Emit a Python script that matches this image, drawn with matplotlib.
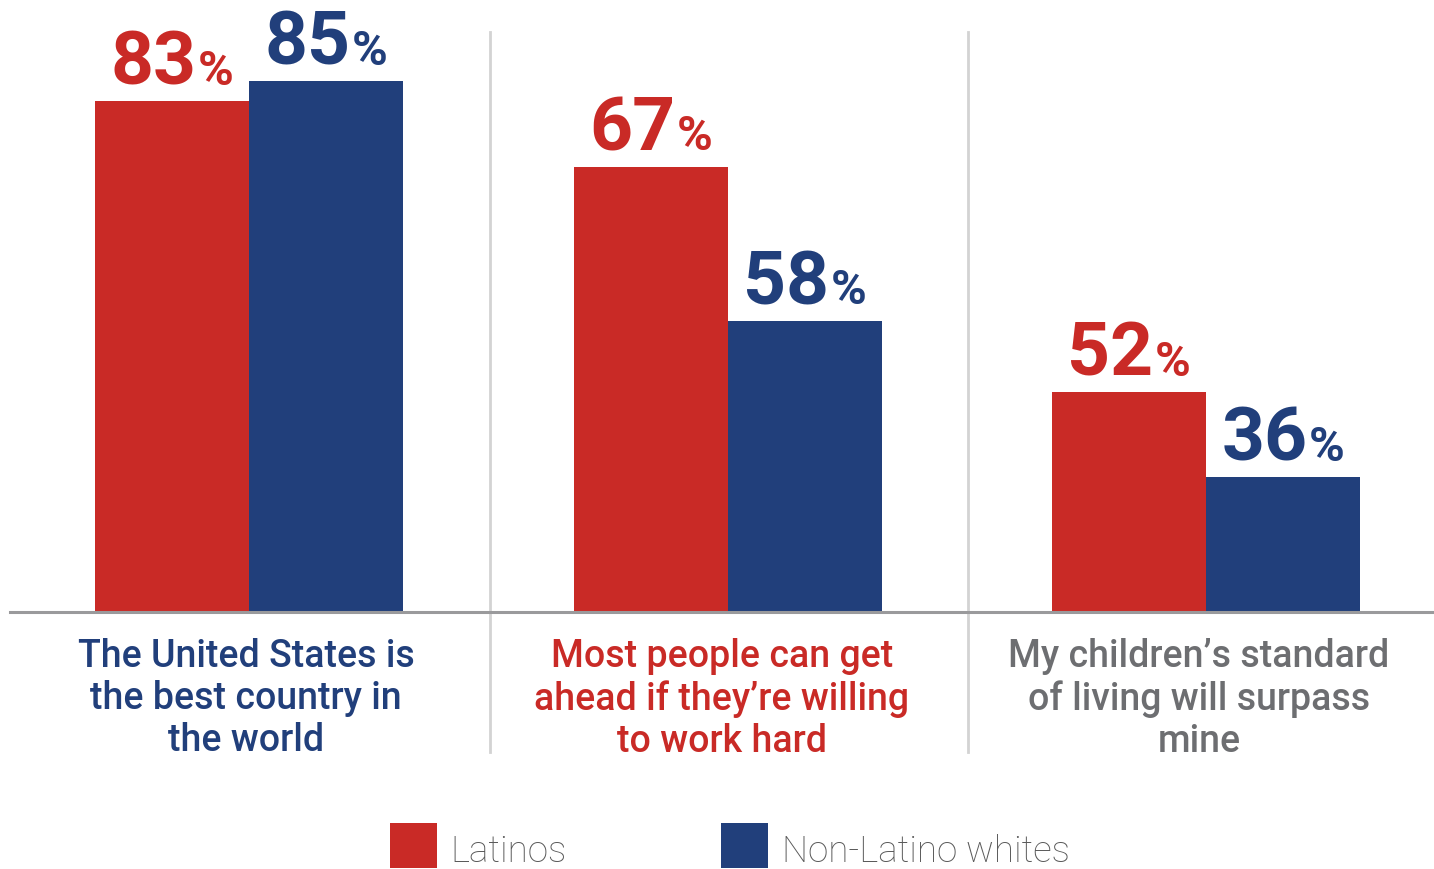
import matplotlib
matplotlib.use("Agg")
import matplotlib.pyplot as plt
from matplotlib.offsetbox import TextArea, HPacker, AnnotationBbox
from matplotlib.patches import Rectangle

# ---- data ----
categories = [
    "The United States is\nthe best country in\nthe world",
    "Most people can get\nahead if they\u2019re willing\nto work hard",
    "My children\u2019s standard\nof living will surpass\nmine",
]
series_names = ["Latinos", "Non-Latino whites"]
latinos = [83, 67, 52]
non_latino_whites = [85, 58, 36]
# bar lengths as drawn in the original graphic (not proportional to labels)
latinos_drawn = [81.8, 71.3, 35.2]
whites_drawn = [85.0, 46.6, 21.6]

RED = "#C92A26"
BLUE = "#213F7B"
GRAY = "#6D6E71"
cat_colors = [BLUE, RED, GRAY]

W, H = 1434, 869
fig = plt.figure(figsize=(W / 100, H / 100), dpi=100)
base_px = 612
ax = fig.add_axes([0, (H - base_px) / H, 1, base_px / H])
px_per_unit = 531 / 85.0
spacing = 478.5
x0px = 249
ax.set_ylim(0, base_px / px_per_unit)
ax.set_xlim(-x0px / spacing, (W - x0px) / spacing)
ax.axis("off")

bw = 154 / spacing
xs = [0, 1, 2]
for i in xs:
    ax.bar(i - bw / 2, latinos_drawn[i], width=bw, color=RED, linewidth=0)
    ax.bar(i + bw / 2, whites_drawn[i], width=bw, color=BLUE, linewidth=0)

def value_label(x, h, val, color):
    t1 = TextArea(f"{val}", textprops=dict(fontsize=54, fontweight="bold",
                                           color=color, family="Roboto"))
    t2 = TextArea("%", textprops=dict(fontsize=35, fontweight="bold",
                                      color=color, family="Roboto"))
    box = HPacker(children=[t1, t2], align="baseline", pad=0, sep=1)
    ab = AnnotationBbox(box, (x, h), xybox=(0, 1), xycoords="data",
                        boxcoords="offset points", box_alignment=(0.5, 0),
                        frameon=False, annotation_clip=False)
    ax.add_artist(ab)

for i in xs:
    value_label(i - bw / 2, latinos_drawn[i], latinos[i], RED)
    value_label(i + bw / 2, whites_drawn[i], non_latino_whites[i], BLUE)

# baseline
fig.add_artist(plt.Line2D([10 / W, 1], [(H - base_px) / H] * 2,
                          color="#9A9A9C", lw=2.2, transform=fig.transFigure))
# dividers
for xp in (490, 968):
    fig.add_artist(plt.Line2D([xp / W, xp / W], [(H - 32) / H, (H - 752) / H],
                              color="#D3D3D3", lw=2, transform=fig.transFigure,
                              zorder=0))

# category labels
label_centers_px = [246, 722, 1199]
for cat, c, xp in zip(categories, cat_colors, label_centers_px):
    fig.text(xp / W, (H - 638) / H, cat, ha="center", va="top", fontsize=27,
             fontweight="medium", family="Roboto", color=c, linespacing=1.17)

# legend
for (x0, tx, col, name) in [(390, 450, RED, series_names[0]),
                            (721, 782, BLUE, series_names[1])]:
    fig.add_artist(Rectangle((x0 / W, (H - 868) / H), 47 / W, 45 / H,
                             color=col, transform=fig.transFigure, lw=0))
    fig.text(tx / W, (H - 852) / H, name, ha="left", va="center", fontsize=26.5,
             fontweight="light", family="Roboto", color="#595959")

fig.savefig("out.png", dpi=100)
